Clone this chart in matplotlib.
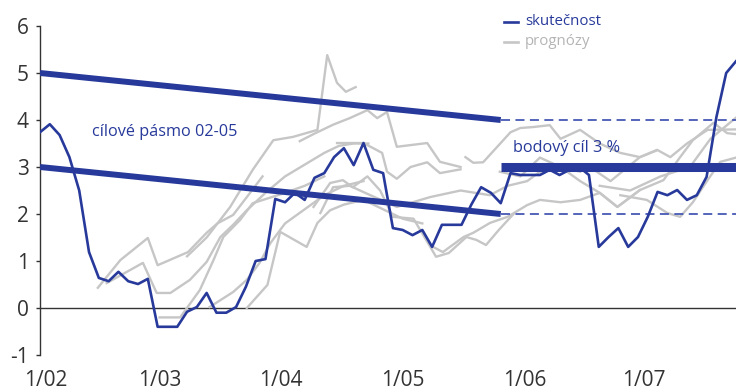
import numpy as np
import matplotlib
matplotlib.use("Agg")
import matplotlib.pyplot as plt

plt.rcParams['font.family'] = ['Open Sans', 'DejaVu Sans']

# months since 1/2002
actual = [3.74, 3.91, 3.68, 3.21, 2.50, 1.19, 0.64, 0.57, 0.77, 0.57, 0.51, 0.62,
          -0.40, -0.40, -0.40, -0.08, 0.02, 0.32, -0.10, -0.10, 0.02, 0.45, 1.00, 1.04,
          2.32, 2.25, 2.45, 2.30, 2.77, 2.87, 3.21, 3.40, 3.04, 3.51, 2.94, 2.87,
          1.70, 1.66, 1.55, 1.66, 1.30, 1.77, 1.77, 1.77, 2.20, 2.57, 2.45, 2.23,
          2.87, 2.83, 2.83, 2.83, 2.94, 2.83, 2.94, 3.00, 2.83, 1.30, 1.51, 1.70,
          1.30, 1.51, 1.94, 2.47, 2.40, 2.51, 2.30, 2.40, 2.79, 4.06, 5.00, 5.25]

# forecasts: (months, values)
forecasts = [
    ([5.9, 8.2, 11.0, 12.0, 15.1, 17.0, 18.1, 19.7, 21.1, 22.7],
     [0.43, 1.02, 1.49, 0.91, 1.19, 1.60, 1.80, 1.98, 2.36, 2.80]),
    ([15.0, 17.0, 19.4, 21.7, 23.8, 25.8, 28.3, 29.3, 30.3, 31.2, 32.2],
     [1.10, 1.50, 2.15, 2.94, 3.57, 3.64, 3.79, 5.38, 4.79, 4.60, 4.70]),
    ([6.8, 10.5, 11.9, 13.3, 15.3, 17.0, 18.4, 19.7, 21.1, 23.0, 25.0, 27.0, 29.0, 30.5, 32.0, 33.5],
     [0.53, 0.96, 0.32, 0.32, 0.60, 0.98, 1.51, 1.77, 2.08, 2.45, 2.80, 3.05, 3.30, 3.45, 3.50, 3.50]),
    ([12.2, 14.3, 16.3, 17.7, 18.7, 20.4, 21.7, 23.5, 25.0, 27.0, 29.0],
     [-0.20, -0.20, 0.38, 1.02, 1.51, 1.87, 2.23, 2.35, 2.45, 2.60, 2.80]),
    ([17.3, 19.7, 21.1, 22.4, 23.5, 25.0, 27.0, 29.0, 31.0, 33.0],
     [0.02, 0.34, 0.60, 0.96, 1.38, 1.80, 2.10, 2.40, 2.60, 2.70]),
    ([21.1, 23.2, 24.5, 27.2, 28.3, 29.6, 31.0, 33.0, 35.0, 37.0, 39.0],
     [0.00, 0.49, 1.62, 1.30, 1.81, 2.08, 2.20, 2.30, 2.10, 1.90, 1.80]),
    ([26.5, 27.9, 29.9, 31.6, 33.4, 34.4, 35.4, 36.4, 39.5, 40.8, 42.9],
     [3.55, 3.70, 3.90, 4.04, 4.21, 4.04, 4.17, 3.43, 3.51, 3.11, 3.00]),
    ([30.3, 33.0, 34.9, 35.4, 36.4, 37.8, 39.5, 40.8, 42.9],
     [3.51, 3.51, 3.30, 2.90, 2.75, 3.00, 3.10, 2.87, 2.95]),
    ([27.9, 29.6, 30.9, 31.9, 33.4, 34.7, 36.0, 38.1, 39.7, 40.4, 41.7, 43.5, 44.5, 45.5, 46.8, 48.3],
     [2.15, 2.66, 2.72, 2.57, 2.80, 2.50, 1.94, 1.90, 1.34, 1.09, 1.17, 1.51, 1.45, 1.34, 1.66, 2.00]),
    ([28.6, 29.9, 31.6, 33.7, 36.4, 39.8, 42.9, 45.9, 47.7, 49.7, 51.0, 53.1, 55.1],
     [2.02, 2.57, 2.60, 2.40, 2.15, 2.36, 2.50, 2.40, 2.60, 2.70, 2.90, 3.00, 2.90]),
    ([40.1, 41.1, 43.2, 44.2, 45.9, 47.7, 49.7, 51.0, 53.1, 55.1, 57.1, 58.9, 61.2],
     [1.30, 1.19, 1.51, 1.60, 1.81, 1.94, 2.19, 2.30, 2.25, 2.30, 2.45, 2.15, 2.51]),
    ([43.4, 44.2, 45.2, 48.0, 49.0, 50.3, 52.0, 53.1, 55.1, 57.1, 59.2, 61.2, 62.9],
     [3.21, 3.09, 3.10, 3.74, 3.83, 3.85, 3.89, 3.60, 3.79, 3.50, 3.30, 3.21, 3.36]),
    ([46.9, 49.0, 51.0, 53.1, 55.1, 57.1, 58.9, 61.2, 63.6, 65.3, 66.6, 68.7, 70.1, 71.0],
     [2.90, 2.80, 3.20, 3.00, 2.70, 2.45, 2.15, 2.51, 2.72, 3.21, 3.57, 3.94, 3.72, 3.70]),
    ([56.1, 58.2, 61.2, 63.0, 64.3, 66.0, 68.1, 71.0],
     [3.00, 2.70, 3.21, 3.36, 3.21, 3.50, 3.79, 3.80]),
    ([59.2, 61.9, 64.0, 65.3, 66.6, 68.1, 69.4, 71.0],
     [2.40, 2.30, 2.02, 1.94, 2.25, 2.72, 3.11, 3.20]),
    ([57.1, 60.2, 63.3, 66.3, 68.4, 71.0],
     [2.60, 2.50, 2.80, 3.00, 3.60, 4.05]),
]

band_x = [0, 47]
band_upper = [5, 4]
band_lower = [3, 2]
point_x = [47, 71]
point_target = 3
point_band = [4, 2]

tick_pos = [0.6, 12.2, 24.6, 37.0, 49.4, 61.6]
tick_lbl = ["1/02", "1/03", "1/04", "1/05", "1/06", "1/07"]

blue = "#27399a"
grey = "#c6c6c6"
dark = "#333333"

fig = plt.figure(figsize=(7.36, 3.92), dpi=100)
ax = fig.add_axes([40 / 736, 37 / 392, 696 / 736, 329 / 392])
ax.set_xlim(0, 71)
ax.set_ylim(-1, 6)

for fx, fy in forecasts:
    ax.plot(fx, fy, color=grey, lw=1.7, zorder=2)

ax.axhline(0, color=dark, lw=1.0, zorder=1)

ax.plot(np.arange(len(actual)), actual, color=blue, lw=1.9, zorder=4)

ax.plot(band_x, band_upper, color=blue, lw=4.3, solid_capstyle='butt', zorder=3)
ax.plot(band_x, band_lower, color=blue, lw=4.3, solid_capstyle='butt', zorder=3)
ax.plot(point_x, [point_target] * 2, color=blue, lw=6.5, solid_capstyle='butt', zorder=3)
for v in point_band:
    ax.plot(point_x, [v, v], color="#4659b5", lw=1.3, ls=(0, (5, 3)), zorder=3)

ax.text(5.3, 3.74, "cílové pásmo 02-05", color=blue, fontsize=11.7, va='center')
ax.text(48.3, 3.4, "bodový cíl 3 %", color=blue, fontsize=11.7, va='center')

# legend
ax.plot([47.3, 48.8], [6.09, 6.09], color=blue, lw=1.9, clip_on=False)
ax.text(49.5, 6.09, "skutečnost", color=blue, fontsize=10.8, va='center')
ax.plot([47.3, 48.8], [5.66, 5.66], color=grey, lw=1.9, clip_on=False)
ax.text(49.5, 5.66, "prognózy", color="#b4b4b4", fontsize=10.8, va='center')

for s in ['top', 'right', 'bottom']:
    ax.spines[s].set_visible(False)
ax.spines['left'].set_color(dark)
ax.spines['left'].set_linewidth(1.0)

ax.set_yticks(range(-1, 7))
ax.set_yticklabels([str(v) for v in range(-1, 7)])
ax.tick_params(axis='y', length=3, width=1.0, color=dark, labelsize=15, labelcolor=dark, pad=5)
ax.set_xticks(tick_pos)
ax.set_xticklabels(tick_lbl)
ax.tick_params(axis='x', length=0, labelsize=15, labelcolor=dark, pad=11)

fig.savefig("out.png", dpi=100)
